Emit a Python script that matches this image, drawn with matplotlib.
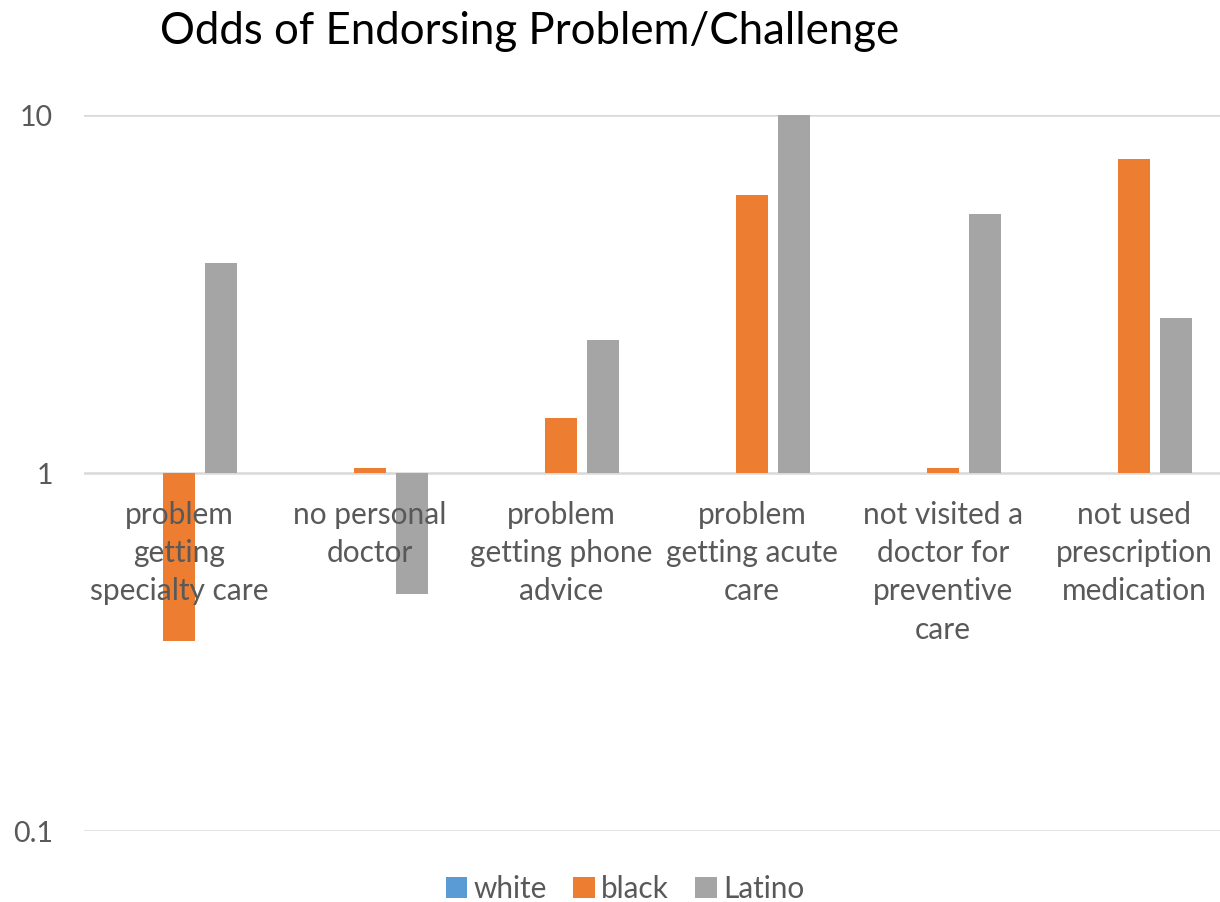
import numpy as np
import matplotlib.pyplot as plt
from matplotlib.ticker import FixedLocator, NullLocator

plt.rcParams['font.family'] = ['Lato', 'DejaVu Sans']

categories = ['problem\ngetting\nspecialty care', 'no personal\ndoctor',
              'problem\ngetting phone\nadvice', 'problem\ngetting acute\ncare',
              'not visited a\ndoctor for\npreventive\ncare',
              'not used\nprescription\nmedication']
white = [1, 1, 1, 1, 1, 1]
black = [0.34, 1.03, 1.42, 5.98, 1.03, 7.54]
latino = [3.86, 0.46, 2.35, 10.0, 5.29, 2.71]
series_names = ['white', 'black', 'Latino']
colors = ['#5b9bd5', '#ed7d31', '#a5a5a5']
txt = '#595959'

fig = plt.figure(figsize=(12.2, 9.02), dpi=100)
ax = fig.add_axes([83.5/1220, 1 - 831/902, 1146/1220, (831-115)/902])

x = np.arange(len(categories))
w = 0.168
off = 0.222
for vals, dx, c, name in zip([white, black, latino], [-off, 0, off], colors, series_names):
    v = np.array(vals, dtype=float)
    ax.bar(x + dx, v - 1, bottom=1, width=w, color=c, label=name, zorder=3)

ax.set_yscale('log')
ax.set_ylim(0.1, 10)
ax.set_xlim(-0.5, len(categories) - 0.5)
ax.yaxis.set_major_locator(FixedLocator([0.1, 1, 10]))
ax.yaxis.set_minor_locator(NullLocator())
ax.set_yticklabels(['0.1', '1', '10'])
ax.tick_params(axis='y', length=0, labelsize=20.5, labelcolor=txt, pad=22)
ax.set_xticks([])
for s in ax.spines.values():
    s.set_visible(False)
for yv in [0.1, 1, 10]:
    ax.axhline(yv, color='#d9d9d9', lw=1.8, zorder=1)

# category labels sit just under the y=1 line, drawn over the bars
for i, lab in enumerate(categories):
    ax.annotate(lab, xy=(i, 1), xytext=(0, -20), textcoords='offset points',
                ha='center', va='top', fontsize=21.5, color=txt,
                linespacing=1.45, zorder=5)

fig.text(160/1220, 1 - 32/902, 'Odds of Endorsing Problem/Challenge',
         fontsize=31.5, color='black', ha='left', va='center')

fig.legend(loc='center', bbox_to_anchor=(625/1220, 1 - 889/902), ncol=3,
           frameon=False, fontsize=21.4, labelcolor=txt, handlelength=0.72,
           handleheight=0.72, handletextpad=0.2, columnspacing=0.9)

fig.savefig('out.png', dpi=100)
